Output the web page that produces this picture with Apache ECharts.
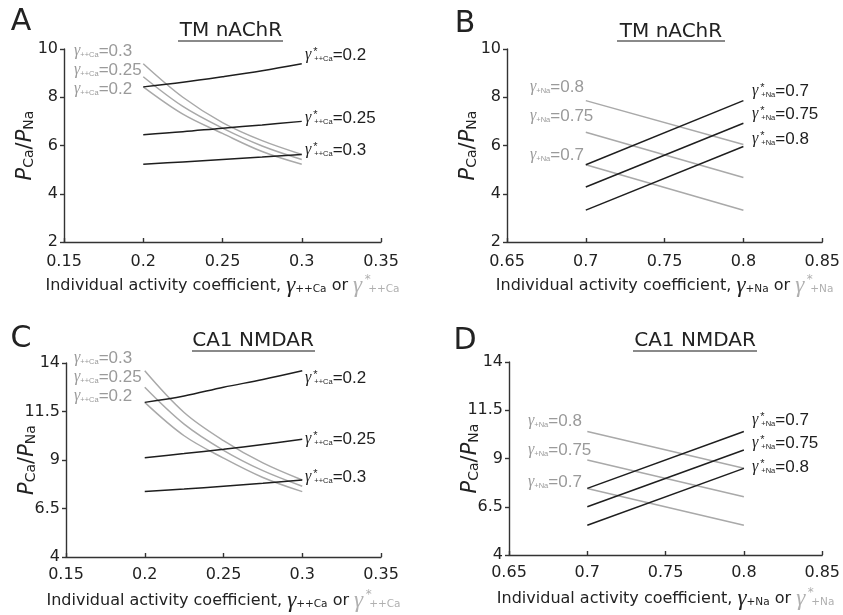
<!DOCTYPE html>
<html><head><meta charset="utf-8">
<script src="https://cdn.jsdelivr.net/npm/echarts@6/dist/echarts.min.js"></script>
<style>html,body{margin:0;padding:0;background:#fff}#c{width:843px;height:615px}</style>
</head><body><div id="c"></div>
<script>
// ---------- DATA ----------
const xCa = [0.2, 0.225, 0.25, 0.275, 0.3];
const xNa = [0.7, 0.8];
const caTicksX = [0.15, 0.2, 0.25, 0.3, 0.35];
const naTicksX = [0.65, 0.7, 0.75, 0.8, 0.85];
const tmTicksY = [2, 4, 6, 8, 10];
const nmTicksY = [4, 6.5, 9, 11.5, 14];

// Panel A (TM nAChR, Ca)
const A_gray_03 = [9.39, 8.0, 6.95, 6.2, 5.63];
const A_gray_025 = [8.85, 7.62, 6.72, 5.98, 5.42];
const A_gray_02 = [8.43, 7.3, 6.5, 5.75, 5.22];
const A_black_02 = [8.43, 8.62, 8.85, 9.1, 9.39];
const A_black_025 = [6.45, 6.57, 6.72, 6.85, 7.0];
const A_black_03 = [5.22, 5.32, 5.42, 5.52, 5.63];
// Panel B (TM nAChR, Na)
const B_gray_08 = [7.86, 6.04];
const B_gray_075 = [6.55, 4.67];
const B_gray_07 = [5.2, 3.32];
const B_black_07 = [5.2, 7.86];
const B_black_075 = [4.28, 6.92];
const B_black_08 = [3.32, 5.96];
// Panel C (CA1 NMDAR, Ca)
const C_gray_03 = [13.6, 11.45, 10.0, 8.85, 7.97];
const C_gray_025 = [12.75, 10.85, 9.5, 8.45, 7.65];
const C_gray_02 = [11.97, 10.25, 9.1, 8.1, 7.37];
const C_black_02 = [11.97, 12.3, 12.75, 13.15, 13.6];
const C_black_025 = [9.12, 9.33, 9.55, 9.8, 10.07];
const C_black_03 = [7.37, 7.5, 7.65, 7.8, 7.97];
// Panel D (CA1 NMDAR, Na)
const D_gray_08 = [10.4, 8.49];
const D_gray_075 = [8.92, 7.02];
const D_gray_07 = [7.45, 5.54];
const D_black_07 = [7.45, 10.4];
const D_black_075 = [6.5, 9.44];
const D_black_08 = [5.54, 8.49];

// ---------- STYLE ----------
const BLACK = '#1e1e1e', GRAY = '#a9a9a9', AXIS = '#333';
const zip = (xs, ys) => xs.map((x, i) => [x, ys[i]]);

const grids = [
  {left: 64, top: 49, width: 317, height: 193},
  {left: 507, top: 49, width: 317, height: 193},
  {left: 66, top: 363, width: 315, height: 194},
  {left: 509, top: 362, width: 315, height: 193}
];

const nameRich = {
  g: {fontFamily: 'Liberation Serif', fontStyle: 'italic', fontSize: 23, color: '#222'},
  s: {fontFamily: 'DejaVu Sans', fontSize: 10.5, color: '#222', verticalAlign: 'bottom', padding: [0, 0, 2, 0]},
  gg: {fontFamily: 'Liberation Serif', fontStyle: 'italic', fontSize: 23, color: '#b0b0b0'},
  st: {fontFamily: 'DejaVu Sans', fontSize: 12, color: '#b0b0b0', verticalAlign: 'top', width: 1, padding: [0, 0, 0, 5]},
  gs: {fontFamily: 'DejaVu Sans', fontSize: 10.5, color: '#b0b0b0', verticalAlign: 'bottom', padding: [0, 0, 2, 0]}
};
function xName(sub) {
  return 'Individual activity coefficient, {g|γ}{s|' + sub + '} or {gg|γ}{st|*}{gs|' + sub + '}';
}
function xAxis(gi, min, max, ticks, sub, margin) {
  return {
    type: 'value', gridIndex: gi, min: min, max: max, interval: 0.05,
    axisLine: {show: true, onZero: false, lineStyle: {color: AXIS, width: 1.4}},
    axisTick: {show: true, inside: true, length: 4, customValues: ticks, lineStyle: {color: AXIS, width: 1.4}},
    axisLabel: {customValues: ticks, color: '#222', fontSize: 16, fontFamily: 'DejaVu Sans', margin: margin,
      formatter: v => String(+(+v).toFixed(2))},
    splitLine: {show: false},
    name: xName(sub), nameLocation: 'middle', nameGap: 32, nameMoveOverlap: false,
    nameTextStyle: {fontFamily: 'DejaVu Sans', fontSize: 16, color: '#222', rich: nameRich}
  };
}
function yAxis(gi, min, max, ticks) {
  return {
    type: 'value', gridIndex: gi, min: min, max: max,
    axisLine: {show: true, onZero: false, lineStyle: {color: AXIS, width: 1.4}},
    axisTick: {show: true, inside: false, length: 4, customValues: ticks, lineStyle: {color: AXIS, width: 1.4}},
    axisLabel: {customValues: ticks, color: '#222', fontSize: 16, fontFamily: 'DejaVu Sans', margin: 6,
      formatter: v => String(+(+v).toFixed(2))},
    splitLine: {show: false},
    name: '{p|P}{sb|Ca}{t|/}{p|P}{sb|Na}', nameLocation: 'middle', nameGap: 28, nameRotate: 90,
    nameMoveOverlap: false,
    nameTextStyle: {rich: {
      p: {fontFamily: 'DejaVu Sans', fontStyle: 'italic', fontSize: 21, color: '#222'},
      t: {fontFamily: 'DejaVu Sans', fontSize: 21, color: '#222'},
      sb: {fontFamily: 'DejaVu Sans', fontSize: 14, color: '#222', verticalAlign: 'bottom'}
    }}
  };
}
function line(gi, xs, ys, color, smooth) {
  return {
    type: 'line', xAxisIndex: gi, yAxisIndex: gi, data: zip(xs, ys),
    showSymbol: false, symbol: 'none', smooth: smooth ? 0.35 : false, silent: true,
    lineStyle: {color: color, width: 1.5}, z: color === GRAY ? 2 : 3
  };
}

// ---------- ANNOTATIONS ----------
function annRich(color) {
  return {
    g: {fontFamily: 'Liberation Serif', fontStyle: 'italic', fontSize: 16, fill: color},
    s: {fontFamily: 'Liberation Sans', fontSize: 7.5, fill: color, verticalAlign: 'bottom', padding: [0, 0, 1, 0]},
    st: {fontFamily: 'Liberation Sans', fontSize: 11, fill: color, verticalAlign: 'top', width: 1, padding: [0, 0, 0, 2]},
    t: {fontFamily: 'Liberation Sans', fontSize: 17, fill: color}
  };
}
function ann(x, y, sub, val, star, color) {
  const txt = '{g|γ}' + (star ? '{st|*}' : '') + '{s|' + sub + '}{t|=' + val + '}';
  return {type: 'text', x: x, y: y, silent: true,
    style: {text: txt, rich: annRich(color), verticalAlign: 'middle', align: 'left'}};
}
function title(cx, cy, text, x0, x1, uy) {
  return [
    {type: 'text', x: cx, y: cy, silent: true,
      style: {text: text, font: '20px "DejaVu Sans"', fill: '#222', align: 'center', verticalAlign: 'middle'}},
    {type: 'line', silent: true, shape: {x1: x0, y1: uy, x2: x1, y2: uy}, style: {stroke: '#8a8a8a', lineWidth: 2}}
  ];
}
function letter(x, y, t) {
  return {type: 'text', x: x, y: y, silent: true,
    style: {text: t, font: '30px "DejaVu Sans"', fill: '#222', align: 'center', verticalAlign: 'middle'}};
}

const graphics = [
  letter(21, 22, 'A'), letter(465, 24, 'B'), letter(21, 339, 'C'), letter(465, 341, 'D'),
  ...title(231, 31, 'TM nAChR', 178, 283, 41),
  ...title(671, 32, 'TM nAChR', 617, 725, 41),
  ...title(253, 341, 'CA1 NMDAR', 192, 315, 351),
  ...title(695, 341, 'CA1 NMDAR', 633, 757, 351),
  // A
  ann(74, 51, '++Ca', '0.3', false, '#9a9a9a'),
  ann(74, 70, '++Ca', '0.25', false, '#9a9a9a'),
  ann(74, 89, '++Ca', '0.2', false, '#9a9a9a'),
  ann(305, 55, '++Ca', '0.2', true, '#1e1e1e'),
  ann(305, 118, '++Ca', '0.25', true, '#1e1e1e'),
  ann(305, 150, '++Ca', '0.3', true, '#1e1e1e'),
  // B
  ann(530, 87, '+Na', '0.8', false, '#9a9a9a'),
  ann(530, 116, '+Na', '0.75', false, '#9a9a9a'),
  ann(530, 155, '+Na', '0.7', false, '#9a9a9a'),
  ann(752, 91, '+Na', '0.7', true, '#1e1e1e'),
  ann(752, 114, '+Na', '0.75', true, '#1e1e1e'),
  ann(752, 139, '+Na', '0.8', true, '#1e1e1e'),
  // C
  ann(74, 358, '++Ca', '0.3', false, '#9a9a9a'),
  ann(74, 377, '++Ca', '0.25', false, '#9a9a9a'),
  ann(74, 396, '++Ca', '0.2', false, '#9a9a9a'),
  ann(305, 378, '++Ca', '0.2', true, '#1e1e1e'),
  ann(305, 439, '++Ca', '0.25', true, '#1e1e1e'),
  ann(305, 477, '++Ca', '0.3', true, '#1e1e1e'),
  // D
  ann(528, 421, '+Na', '0.8', false, '#9a9a9a'),
  ann(528, 450, '+Na', '0.75', false, '#9a9a9a'),
  ann(528, 482, '+Na', '0.7', false, '#9a9a9a'),
  ann(752, 420, '+Na', '0.7', true, '#1e1e1e'),
  ann(752, 443, '+Na', '0.75', true, '#1e1e1e'),
  ann(752, 467, '+Na', '0.8', true, '#1e1e1e')
];

const option = {
  animation: false,
  backgroundColor: '#fff',
  grid: grids,
  xAxis: [
    xAxis(0, 0.15, 0.35, caTicksX, '++Ca', 12),
    xAxis(1, 0.65, 0.85, naTicksX, '+Na', 12),
    xAxis(2, 0.15, 0.35, caTicksX, '++Ca', 10),
    xAxis(3, 0.65, 0.85, naTicksX, '+Na', 10)
  ],
  yAxis: [
    yAxis(0, 2, 10, tmTicksY),
    yAxis(1, 2, 10, tmTicksY),
    yAxis(2, 4, 14, nmTicksY),
    yAxis(3, 4, 14, nmTicksY)
  ],
  series: [
    line(0, xCa, A_gray_03, GRAY, true), line(0, xCa, A_gray_025, GRAY, true), line(0, xCa, A_gray_02, GRAY, true),
    line(0, xCa, A_black_02, BLACK, true), line(0, xCa, A_black_025, BLACK, true), line(0, xCa, A_black_03, BLACK, true),
    line(1, xNa, B_gray_08, GRAY), line(1, xNa, B_gray_075, GRAY), line(1, xNa, B_gray_07, GRAY),
    line(1, xNa, B_black_07, BLACK), line(1, xNa, B_black_075, BLACK), line(1, xNa, B_black_08, BLACK),
    line(2, xCa, C_gray_03, GRAY, true), line(2, xCa, C_gray_025, GRAY, true), line(2, xCa, C_gray_02, GRAY, true),
    line(2, xCa, C_black_02, BLACK, true), line(2, xCa, C_black_025, BLACK, true), line(2, xCa, C_black_03, BLACK, true),
    line(3, xNa, D_gray_08, GRAY), line(3, xNa, D_gray_075, GRAY), line(3, xNa, D_gray_07, GRAY),
    line(3, xNa, D_black_07, BLACK), line(3, xNa, D_black_075, BLACK), line(3, xNa, D_black_08, BLACK)
  ],
  graphic: graphics
};
const chart = echarts.init(document.getElementById('c'), null, {renderer: 'canvas'});
chart.setOption(option);
</script>
</body></html>
